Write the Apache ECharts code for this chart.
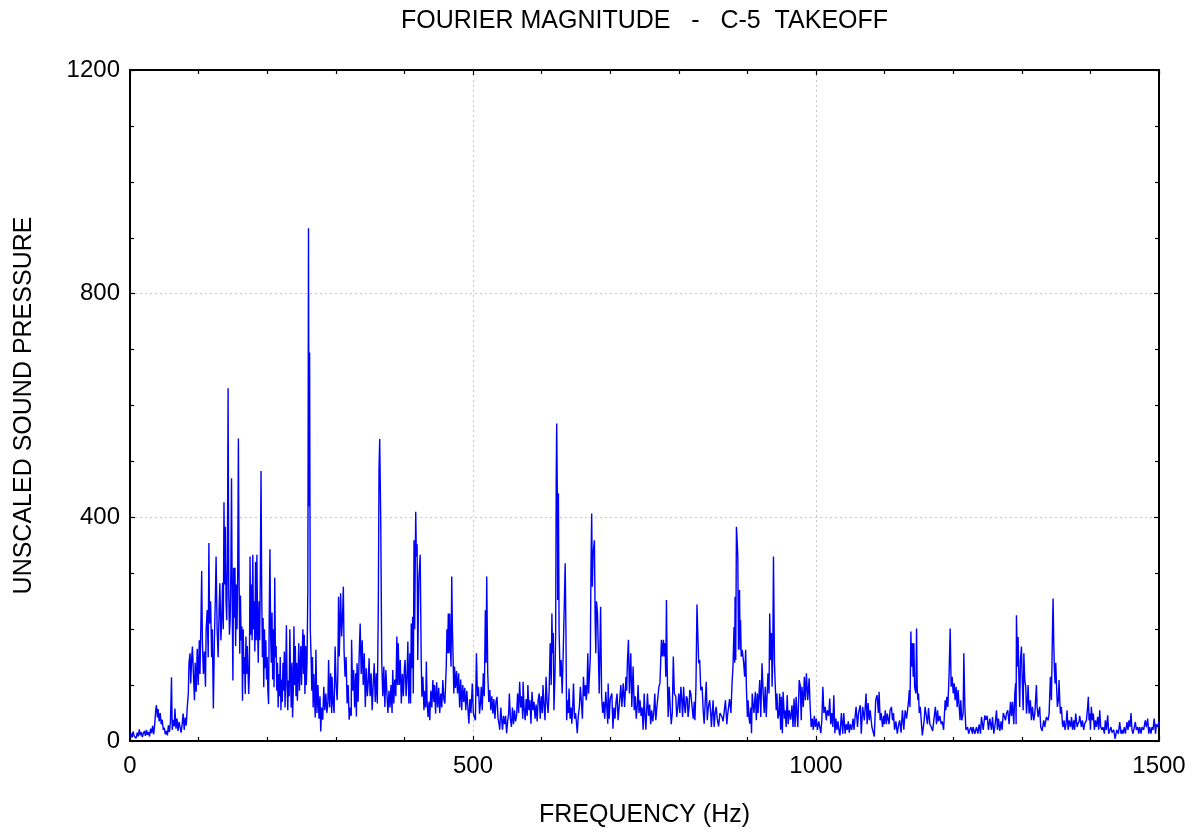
<!DOCTYPE html>
<html>
<head>
<meta charset="utf-8">
<script src="https://cdn.jsdelivr.net/npm/echarts@6/dist/echarts.min.js"></script>
<style>
html,body{margin:0;padding:0;background:#fff;}
#chart{width:1195px;height:833px;}
</style>
</head>
<body>
<div id="chart"></div>
<script>
// ---- Data: [frequency Hz, magnitude] ----
var band0 = [[0,8],[1.5,14],[3,6],[4.5,17],[6,9],[7.5,12],[9,5],[10.5,15],[12,8],[13.5,21],[15,10],[16.5,16],[18,7],[19.5,14],[21,18],[22.5,9],[24,20],[25.5,11],[27,16],[28.5,8],[30,22],[31.5,14],[33,27],[34.5,12],[36,30],[37.5,55],[38.5,64],[40,42],[41,57],[42.5,35],[44,50],[45.5,30],[47,38],[48.5,20],[50,24],[51.5,12],[53,18],[54.5,10],[56,28],[57.5,16],[59,35],[60.5,114],[61.5,20],[63,38],[64.5,26],[65.5,58],[67,22],[68.5,40],[70,18],[71.5,34],[73,25],[74.5,15],[76,30],[77.5,49],[79,20],[80.5,42],[82,28],[83.5,61],[85,85],[86,140],[87.5,157],[88.5,103],[90,150],[91,169],[92.5,118],[94,73],[95,140],[96.5,88],[98,165],[99.5,100],[101,180],[102,120],[103.5,220],[104.5,304],[105.5,180],[107,120],[108.5,160],[110,97],[111,200],[112.5,234],[114,150],[115,354],[116,210],[117.5,250],[119,150],[120,200],[121.5,58],[123,180],[124.5,260],[125.5,330],[127,200],[128.5,150],[130,240],[131,282],[132.5,180],[134,230]];
var band1 = [[135,283],[136,200],[137,427],[138,280],[139,383],[140,250],[141,216],[142,320],[143,631],[144,260],[145,190],[146,215],[147,300],[148,470],[149,250],[150,108],[151,310],[152,220],[153,310],[154,170],[155,280],[156,200],[157,300],[158,541],[159,295],[160,156],[161,260],[162,180],[163,205],[164,72],[165,200],[166,120],[167,150],[168,84],[169,187],[170,120],[171,170],[172,130],[173,84],[174,120],[175,330],[176,190],[177,280],[178,180],[179,333],[180,200],[181,250],[182,160],[183,320],[184,180],[185,333],[186,200],[187,140],[188,250],[189,180],[190,300],[191,483],[192,265],[193,150],[194,220],[195,96],[196,200],[197,130],[198,180],[199,110],[200,150],[201,90],[202,66],[203,228],[204,343],[205,190],[206,140],[207,230],[208,110],[209,200],[210,96],[211,292],[212,150],[213,170],[214,90],[215,140],[216,60],[217,120],[218,80],[219,150],[220,55],[221,110],[222,70],[223,140],[224,90],[225,160],[226,60],[227,120],[228,207],[229,100],[230,55],[231,108],[232,80],[233,200],[234,120],[235,60],[236,140],[237,42],[238,90],[239,205],[240,100],[241,170],[242,80],[243,140],[244,72],[245,120],[246,175],[247,90],[248,130],[249,170],[250,100],[251,150],[252,200],[253,120],[254,190],[255,84],[256,170],[257,100],[258,140],[259.3,274],[260.2,917],[261,420],[261.8,695],[262.8,200],[264,150],[265,90],[266,150],[267,60],[268,120],[269,80],[270,42]];
var band2 = [[271,163],[272.5,50],[274,100],[275.5,40],[277,80],[278,17],[279.5,60],[281,38],[282.5,97],[284,55],[285.5,85],[287,50],[288.5,70],[289.5,145],[291,60],[292.5,121],[294,50],[294.5,115],[296,70],[297.5,50],[299,169],[300.5,100],[302,73],[303,121],[304,258],[305,151],[306,200],[307,264],[308.5,187],[310,230],[311,276],[312,163],[313.5,115],[315,150],[316.5,67],[318,100],[319.5,38],[321,60],[322.5,45],[323,181],[324.5,90],[326,127],[327.5,60],[329,121],[330,44],[331,139],[332.5,70],[334,150],[335.5,210],[337,120],[338.5,180],[340,100],[341.5,157],[343,61],[344.5,130],[346,80],[347.5,110],[348.5,148],[350,80],[351.5,121],[353,55],[354.5,100],[356,139],[357.5,70],[359,121],[360.5,67],[362,246],[363,487],[364,540],[365.5,395],[367,139],[368.5,80],[370,133],[371.5,61],[373,127],[374.5,85],[376,50],[377.5,90],[379,60],[380.5,100],[382,50],[383,127],[384.5,67],[386,110],[387.5,80],[389,187],[390,100],[391,175],[392.5,100],[394,145],[395.5,67],[397,120],[398.5,80],[400,130],[401,145],[402.5,80],[404,120],[405,178],[406.5,67]];
var band3 = [[408,157],[409,67],[410,210],[411,130],[412,222],[413,85],[414,359],[415,200],[416.5,410],[417.5,330],[418.5,352],[419.5,145],[421,288],[423,333],[424.5,145],[425.5,79],[427,115],[428.5,55],[430,90],[431,60],[432,142],[433,73],[434.5,43],[436,70],[437,37],[438.5,90],[440,60],[441.5,109],[443,70],[444,100],[445.5,49],[447,105],[448.5,60],[450,95],[451.5,50],[453,85],[454.5,60],[456,109],[457.5,75],[459,67],[460,100],[461,133],[462,200],[463,157],[464,228],[465,157],[466,228],[467,170],[468,133],[469,294],[470,200],[471,150],[472,85],[473,133],[474.5,95],[476,125],[477.5,85],[479,121],[480.5,60],[482,110],[483.5,55],[485,100],[486.5,70],[488,95],[489.5,55],[491,90],[492.5,60],[494,31],[495.5,75],[497,50],[499,103],[500.5,50],[502,43],[503.5,37],[505,157],[506.5,80],[508,97],[509.5,49],[511,70],[512,97],[513.5,55],[515,121],[516.5,80],[518,234],[519,140],[520,294],[521.5,121],[523,70],[524.5,91],[526,55],[527.5,80],[529,49],[530.5,75],[532,40],[533.5,70],[535,79],[536.5,40],[538,30],[539,20],[540.5,60],[542,35],[543,20],[544.5,45]];
var band4 = [[546,30],[547.5,45],[549,14],[550.5,35],[552,50],[553,85],[554.5,40],[556,25],[557.5,60],[559,30],[560.5,55],[562,35],[563.5,45],[565,85],[566.5,50],[568,106],[569.5,60],[571,80],[572.5,40],[573,106],[574.5,60],[576,37],[577.5,75],[579,45],[580,100],[581.5,55],[583,73],[584.5,31],[586,88],[587.5,55],[589,70],[590.5,40],[592,65],[593.5,35],[595,73],[596.5,85],[598,40],[599.5,80],[601,50],[602,100],[603.5,65],[605,37],[606.5,115],[608,70],[609.5,50],[611,90],[612.5,175],[614,100],[615,228],[616,157],[617,193],[618,55],[619.5,120],[620.5,193],[621.3,467],[622,568],[623,437],[623.5,252],[624.5,443],[625.5,198],[626.5,198],[627,115],[628.5,145],[630,85],[631.5,157],[633,157],[634.4,318],[635.5,193],[636.5,37],[638,73],[639,50],[640,94],[641.5,40],[643,60],[644,31],[645,50],[646.5,103],[648,40],[649.5,50],[651,30],[652,14],[653.5,45],[655,60],[656.5,97],[658,70],[659.5,40],[661,115],[662.5,80],[664,100],[665,73],[666,85],[667.4,157],[668.5,85],[670,85],[671,150],[672,312],[673,407],[674,276],[675,330],[676,347],[677,359],[678,222],[679,157],[680,250]];
var band5 = [[681.5,228],[684,85],[686,240],[687.5,80],[689,50],[690.5,70],[692,40],[693.5,88],[695,60],[696.5,31],[697,103],[698.5,40],[700,75],[701,73],[702.4,85],[704,22],[705.5,60],[707,40],[708.5,70],[710,85],[711.5,37],[713,60],[715.5,100],[717,61],[719,103],[721,61],[723,115],[724,90],[725,139],[726.6,181],[728,85],[730,157],[731.5,61],[733.4,133],[735,55],[736.5,80],[738,40],[739.5,65],[740.7,100],[742,50],[743.5,73],[745,45],[746.5,60],[748,20],[749.5,85],[751,40],[752,20],[754.3,85],[756,45],[757.5,65],[759,30],[760.5,55],[762,35],[763.5,50],[765,85],[766.5,37],[768,60],[769,61],[771,97],[772.5,103],[774.7,181],[776,151],[777.6,181],[778.5,151],[780,175],[781,115],[782,252],[783,133],[784.5,43],[786,97],[787.5,60],[789,30],[790.5,50],[792,151],[793.5,85],[795.6,80],[797,43],[798.5,60],[800,85],[801.5,50],[803,97],[804.5,70],[805.5,43],[807,97],[808.5,60],[809.5,50],[811,80],[812.5,75],[813.5,43],[815,60],[816,91],[817.5,85]];
var band6 = [[819.5,85],[821,40],[822.5,70],[823.5,37],[825,97],[826.5,244],[827.5,200],[829,139],[830.5,145],[832,91],[834,97],[835.5,55],[837,31],[838.5,70],[840,106],[841.5,37],[843,60],[845,73],[846.5,50],[847.5,25],[850,73],[851.5,25],[853,50],[854.5,61],[856,40],[858,26],[860,50],[863,43],[864.5,35],[866,50],[868,73],[870,30],[871,45],[874,75],[876,50],[877.6,103],[879,133],[880.5,204],[881.5,140],[882,258],[883,145],[884,383],[885,359],[886,332],[887,163],[888.5,270],[889.5,163],[890,216],[891,151],[892.5,163],[894.6,139],[896,115],[897.5,163],[898.5,97],[900,43],[901,73],[902.5,40],[903.5,31],[905,60],[906,14],[907,85],[909.5,50],[911.6,88],[913,37],[914.5,85],[915.5,50],[918,109],[919.5,43],[921.3,139],[923,85],[924.5,50],[926,97],[927.5,43],[930,121],[931.5,85],[932.5,228],[934,145],[935,193],[936,97],[937,151],[938,330],[939.5,139],[940.5,103],[942,55],[943,85],[944.5,40],[946,49],[947,85],[948.5,20],[949.5,79],[951,14],[952,88],[954,40]];
var band7 = [[955,55],[956.5,25],[958,82],[959.5,30],[961,55],[963,38],[965,64],[966.5,25],[968,76],[969.5,25],[971,79],[972.5,45],[973.5,25],[975.5,109],[977,100],[978.5,37],[979.5,97],[981.5,61],[983,115],[984.5,73],[986,121],[988,73],[990,112],[991.5,61],[993,25],[994.5,40],[996,20],[997.5,45],[999,25],[1000.5,40],[1002,20],[1004,35],[1005.5,25],[1007,14],[1008.5,37],[1010,97],[1011.5,50],[1013.5,61],[1015,37],[1016.5,55],[1018.5,45],[1020,76],[1021.5,30],[1023,50],[1024.5,25],[1026,82],[1027.5,14],[1029,40],[1030.5,20],[1032,35],[1034,14],[1035,10],[1037,50],[1039,13],[1040.5,50],[1042.5,13],[1044,30],[1045.5,20],[1047,35],[1048.5,15],[1050,30],[1052,20],[1054,40],[1055.5,20],[1057.5,50],[1058.5,61],[1060.5,25],[1062,50],[1064.5,64],[1066,13],[1068,61],[1070.5,37],[1073,85],[1074.5,30],[1076,68],[1077.5,37],[1079,55],[1081.5,25],[1084,13],[1085,8],[1087,73],[1089,82],[1091,50]];
var band8 = [[1092,88],[1093.5,37],[1095,50],[1097,25],[1098.5,45],[1099.5,30],[1101,55],[1102.5,30],[1104,49],[1106.5,30],[1108,55],[1110,61],[1111.5,37],[1113,50],[1114.5,20],[1116.5,35],[1118.5,13],[1120.5,30],[1122,37],[1124,15],[1126,55],[1128,20],[1130,55],[1132,40],[1134,61],[1135,73],[1136,91],[1137,61],[1138.3,196],[1139.3,133],[1140.7,175],[1141.7,115],[1142.7,175],[1143.7,97],[1145.6,85],[1146.6,201],[1147.5,97],[1148.5,73],[1149.5,85],[1150.5,50],[1152,61],[1153.3,38],[1155,10],[1157.7,37],[1159,61],[1161,60],[1162.5,30],[1164,59],[1166,30],[1168,25],[1170,18],[1172,20],[1174,61],[1175.7,30],[1177.2,55],[1178.6,35],[1180.5,45],[1182.5,30],[1184,35],[1186,20],[1188.3,73],[1189.3,55],[1190.7,79],[1192.2,61],[1194,119],[1195.6,201],[1197,97],[1198.5,115],[1200,85],[1201.4,103],[1202.8,73],[1204.3,97],[1205.8,61],[1207.2,91],[1208.7,61],[1210,37],[1211,73],[1212.6,37],[1214.5,50],[1215.5,157],[1217,61],[1218.5,20],[1221,25],[1222.5,13],[1224.2,20],[1226,25],[1228,13]];
var band9 = [[1229,25],[1231.5,13],[1234,25],[1236,13],[1237.8,30],[1239.8,13],[1241.2,43],[1243.7,20],[1246.1,46],[1247.5,38],[1249.5,45],[1251.4,20],[1253.4,40],[1255.8,20],[1257.3,43],[1259.2,13],[1261.1,30],[1263.1,55],[1264.5,20],[1266,40],[1268,18],[1269.9,35],[1271.3,20],[1273,50],[1274.3,50],[1276.2,37],[1277.6,49],[1279.6,55],[1281.5,30],[1283.5,70],[1285,45],[1286.4,70],[1288.3,30],[1289.8,85],[1291,103],[1291.7,30],[1292.2,225],[1293.7,133],[1294.6,186],[1295.6,121],[1297,61],[1298,145],[1299.5,169],[1300.5,115],[1302,55],[1303,157],[1304.3,109],[1305.8,97],[1306.8,49],[1308.2,73],[1309.2,100],[1310.6,49],[1312.5,73],[1314,37],[1315.5,61],[1317.5,37],[1319,49],[1321.3,100],[1322.3,61],[1323.8,43],[1326,61],[1327.6,25],[1329.6,18],[1332,37],[1333.4,25],[1335.9,43],[1338.3,37],[1339.8,49],[1341.7,115],[1343.2,73],[1344.6,190],[1345.6,255],[1346.6,175],[1347.5,127],[1348.5,103],[1349.5,140],[1350.5,103],[1351.9,61],[1353.3,73],[1354.3,109],[1355.3,73],[1356.3,49],[1357.7,61],[1359.2,31],[1360.2,25],[1361.6,37],[1363,20],[1364.5,30]];
var band10 = [[1366,55],[1367.5,20],[1369,37],[1371,25],[1372.5,43],[1374,20],[1375.7,37],[1377,20],[1378.6,49],[1380.6,25],[1382,31],[1383.5,35],[1384.4,45],[1386.9,25],[1388.3,37],[1390.3,20],[1391.7,31],[1394.2,37],[1396,61],[1397,79],[1398,37],[1399,49],[1400,20],[1401.4,61],[1402.9,37],[1404.3,49],[1405.8,20],[1407.3,37],[1408.7,25],[1410.7,43],[1412.1,20],[1413.6,55],[1415,25],[1417,20],[1418.4,25],[1420.4,13],[1421.8,37],[1423.3,20],[1425.2,46],[1426.7,13],[1428.1,13],[1430,25],[1431.5,15],[1434,20],[1436,4],[1438.4,20],[1440.8,13],[1442.7,34],[1444.6,13],[1446.1,20],[1447.6,13],[1449.5,25],[1451,13],[1453.4,34],[1454.8,20],[1456.3,37],[1457.7,25],[1459.2,50],[1460.6,20],[1462.1,13],[1464,25],[1465.5,34],[1467,20],[1469,25],[1470.4,13],[1471.8,25],[1473.8,13],[1475.2,25],[1477.6,20],[1480,37],[1481.5,25],[1483.5,40],[1485,13],[1486.4,25],[1488.3,13],[1489.8,25],[1491.2,20],[1493,40],[1495,13],[1496,30],[1498,25],[1500,35]];

var xTicks = [0, 500, 1000, 1500];
var yTicks = [0, 400, 800, 1200];
var titleText = 'FOURIER MAGNITUDE   -   C-5  TAKEOFF';
var xName = 'FREQUENCY (Hz)';
var yName = 'UNSCALED SOUND PRESSURE';

var spectrum = [].concat(band0, band1, band2, band3, band4, band5, band6, band7, band8, band9, band10);

var FONT = 'Liberation Sans, Arial, sans-serif';
var gridLine = {show: true, lineStyle: {color: '#c8c8c8', width: 1, type: [2, 3]}};
function plain(v) { return String(v); }

function xAx(pos, main) {
  return {
    type: 'value', position: pos, min: xTicks[0], max: xTicks[xTicks.length - 1], interval: 500,
    name: main ? xName : '', nameLocation: 'middle', nameGap: 62,
    nameTextStyle: {color: '#000', fontSize: 25, fontFamily: FONT},
    axisLine: {show: true, onZero: false, lineStyle: {color: '#000', width: 2}},
    axisTick: {show: true, inside: true, length: 5, lineStyle: {color: '#000', width: 1.2}},
    minorTick: {show: true, splitNumber: 5, length: 4, lineStyle: {color: '#000', width: 1.2}},
    axisLabel: {show: main, color: '#000', fontSize: 24, fontFamily: FONT, margin: 13, formatter: plain},
    splitLine: main ? gridLine : {show: false},
    minorSplitLine: {show: false}
  };
}
function yAx(pos, main) {
  return {
    type: 'value', position: pos, min: yTicks[0], max: yTicks[yTicks.length - 1], interval: 400,
    name: main ? yName : '', nameLocation: 'middle', nameGap: 93, nameRotate: 90,
    nameTextStyle: {color: '#000', fontSize: 25, fontFamily: FONT},
    axisLine: {show: true, onZero: false, lineStyle: {color: '#000', width: 2}},
    axisTick: {show: true, inside: true, length: 5, lineStyle: {color: '#000', width: 1.2}},
    minorTick: {show: true, splitNumber: 4, length: 4, lineStyle: {color: '#000', width: 1.2}},
    axisLabel: {show: main, color: '#000', fontSize: 24, fontFamily: FONT, margin: 10, formatter: plain},
    splitLine: main ? gridLine : {show: false},
    minorSplitLine: {show: false}
  };
}

var chart = echarts.init(document.getElementById('chart'), null, {renderer: 'canvas'});
chart.setOption({
  backgroundColor: '#ffffff',
  animation: false,
  title: {
    text: titleText, left: 396, top: 4,
    textStyle: {color: '#000', fontSize: 25, fontWeight: 'normal', fontFamily: FONT}
  },
  grid: {left: 130, right: 36, top: 70, bottom: 92, containLabel: false, show: false},
  xAxis: [xAx('bottom', true), xAx('top', false)],
  yAxis: [yAx('left', true), yAx('right', false)],
  series: [{
    type: 'line', xAxisIndex: 0, yAxisIndex: 0,
    data: spectrum, showSymbol: false, symbol: 'none',
    sampling: null, clip: true,
    lineStyle: {color: '#0000ff', width: 1.4},
    emphasis: {disabled: true}
  }]
});
</script>
</body>
</html>
